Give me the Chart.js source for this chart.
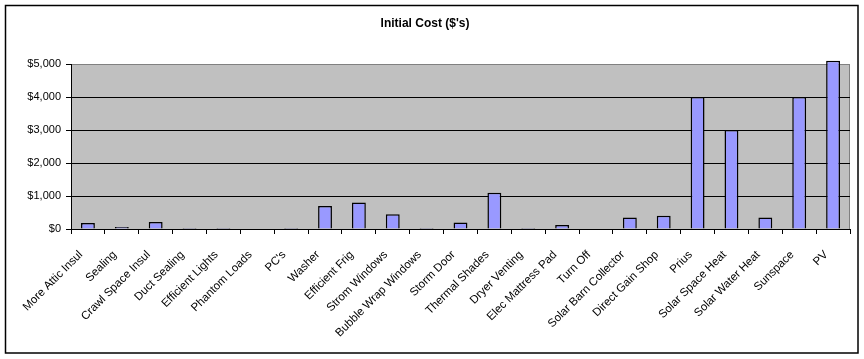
<!DOCTYPE html>
<html>
<head>
<meta charset="utf-8">
<style>
html,body{margin:0;padding:0;background:#fff;}
#wrap{position:relative;width:864px;height:359px;}
</style>
<script src="https://cdn.jsdelivr.net/npm/chart.js@4/dist/chart.umd.min.js"></script>
</head>
<body>
<div id="wrap"><canvas id="c" width="864" height="359"></canvas></div>
<script>
const chartTitle = "Initial Cost ($'s)";
const categories = ["More Attic Insul","Sealing","Crawl Space Insul","Duct Sealing","Efficient Lights","Phantom Loads","PC's","Washer","Efficient Frig","Strom Windows","Bubble Wrap Windows","Storm Door","Thermal Shades","Dryer Venting","Elec Mattress Pad","Turn Off","Solar Barn Collector","Direct Gain Shop","Prius","Solar Space Heat","Solar Water Heat","Sunspace","PV"];
const initialCost = [180,60,210,30,30,0,30,700,800,450,30,200,1100,30,120,0,350,400,4000,3000,350,4000,5100];
const yMin = 0, yMax = 5000, yStep = 1000;

const frame = {
  id:'frame',
  beforeDraw(chart){
    const {ctx, chartArea:a} = chart;
    ctx.save();
    ctx.fillStyle='#fff';
    ctx.fillRect(0,0,chart.width,chart.height);
    ctx.fillStyle='#C0C0C0';
    ctx.fillRect(a.left,a.top,a.right-a.left,a.bottom-a.top);
    ctx.strokeStyle='#808080';
    ctx.lineWidth=1;
    ctx.strokeRect(a.left+0.5,a.top+0.5,a.right-a.left-1,a.bottom-a.top);
    ctx.restore();
  },
  afterDraw(chart){
    const {ctx} = chart;
    ctx.save();
    ctx.strokeStyle='#000';
    ctx.lineWidth=1.5;
    ctx.strokeRect(5.5,5.5,852.5,347.5);
    ctx.restore();
  }
};

new Chart(document.getElementById('c'),{
  type:'bar',
  data:{labels:categories,datasets:[{
    data:initialCost,
    backgroundColor:'#9999FF',
    borderColor:'#000',
    borderWidth:1.5,
    barPercentage:0.41,
    categoryPercentage:1,
    clip:6
  }]},
  options:{
    responsive:false,
    animation:false,
    layout:{padding:{top:16,right:14,left:0,bottom:0}},
    plugins:{
      legend:{display:false},
      tooltip:{enabled:false},
      title:{display:true,text:chartTitle,color:'#000',
        font:{family:'Arial, "Liberation Sans", sans-serif',size:12,weight:'bold'},
        padding:{top:0,bottom:33.6}}
    },
    scales:{
      x:{
        grid:{offset:true,drawOnChartArea:false,tickLength:5,tickColor:'#000',lineWidth:1},
        border:{color:'#000',width:1},
        ticks:{color:'#000',maxRotation:45,minRotation:45,autoSkip:false,padding:14,labelOffset:-7,
          font:{family:'Arial, "Liberation Sans", sans-serif',size:11.5}},
        afterFit(s){s.height=130;}
      },
      y:{
        min:yMin,max:yMax,
        grid:{
          color(ctx){ if(!ctx.tick) return '#000'; return ctx.tick.value===yMax?'#808080':'#000'; },
          tickColor:'#000',tickLength:5,lineWidth:1
        },
        border:{color:'#000',width:1},
        ticks:{stepSize:yStep,color:'#000',padding:5,
          font:{family:'Arial, "Liberation Sans", sans-serif',size:11},
          callback:v=>'$'+Number(v).toLocaleString('en-US')},
        afterFit(s){s.width=71;}
      }
    }
  },
  plugins:[frame]
});
</script>
</body>
</html>
